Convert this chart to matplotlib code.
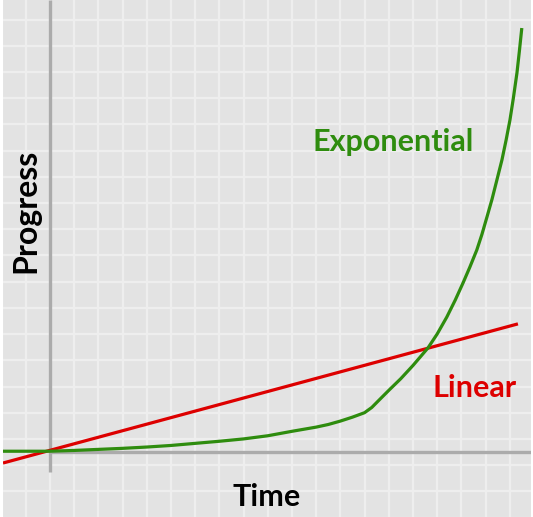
import matplotlib
matplotlib.use("Agg")
import matplotlib.pyplot as plt

# values (time / progress in grid units)
exp_time = [-1.94, 0, 1, 2, 3, 4, 5, 6, 7, 8, 9, 10, 11, 11.5, 12, 12.5, 13,
            13.3, 13.6, 14.0, 14.5, 15.0, 15.62, 16.0, 16.4, 16.75,
            17.07, 17.35, 17.64, 17.85, 18.06, 18.27, 18.47, 18.68, 18.85,
            19.01, 19.15, 19.3, 19.4, 19.5]
exp_progress = [0.03, 0.03, 0.06, 0.1, 0.14, 0.19, 0.25, 0.33, 0.41, 0.5, 0.62,
                0.79, 0.95, 1.05, 1.18, 1.33, 1.5, 1.7, 1.98, 2.35, 2.8, 3.3,
                3.97, 4.5, 5.15, 5.8, 6.45, 7.05, 7.71, 8.3, 8.97, 9.65,
                10.38, 11.15, 11.9, 12.67, 13.5, 14.47, 15.3, 16.18]
lin_time = [-1.94, 19.34]
lin_progress = [-0.42, 4.89]

bg = "#e3e3e3"
grid_c = "#eeeeee"
axis_c = "#ababab"
green = "#2e8c0e"
red = "#dd0000"

fig = plt.figure(figsize=(5.33, 5.17), dpi=100, facecolor="white")
ax = fig.add_axes([3 / 533, 0, 528 / 533, 1])
ax.set_facecolor(bg)
ax.set_xlim(-1.94, 19.88)
ax.set_ylim(-2.48, 17.25)
for s in ax.spines.values():
    s.set_visible(False)
ax.set_xticks([])
ax.set_yticks([])

for k in range(-2, 21):
    ax.axvline(k, color=grid_c, lw=1.6, zorder=0)
for k in range(-3, 18):
    ax.axhline(k + 0.5, color=grid_c, lw=1.6, zorder=0)

# axes
ax.plot([0, 0], [-0.76, 17.25], color=axis_c, lw=2.4, zorder=1, solid_capstyle="butt")
ax.plot([0, 19.88], [0, 0], color=axis_c, lw=2.4, zorder=1, solid_capstyle="butt")

ax.plot(lin_time, lin_progress, color=red, lw=2.3, zorder=3, solid_capstyle="butt")
ax.plot(exp_time, exp_progress, color=green, lw=2.3, zorder=4,
        solid_capstyle="butt", solid_joinstyle="round")

font = "Lato"
ax.text(14.17, 11.83, "Exponential", color=green, fontsize=22, fontweight="bold",
        family=font, ha="center", va="center")
ax.text(17.56, 2.44, "Linear", color=red, fontsize=22, fontweight="bold",
        family=font, ha="center", va="center")
ax.text(8.97, -1.72, "Time", color="black", fontsize=22, fontweight="bold",
        family=font, ha="center", va="center")
ax.text(-0.99, 9.2, "Progress", color="black", fontsize=23, fontweight="bold",
        family=font, ha="center", va="center", rotation=90)

fig.savefig("out.png", dpi=100, facecolor="white")
